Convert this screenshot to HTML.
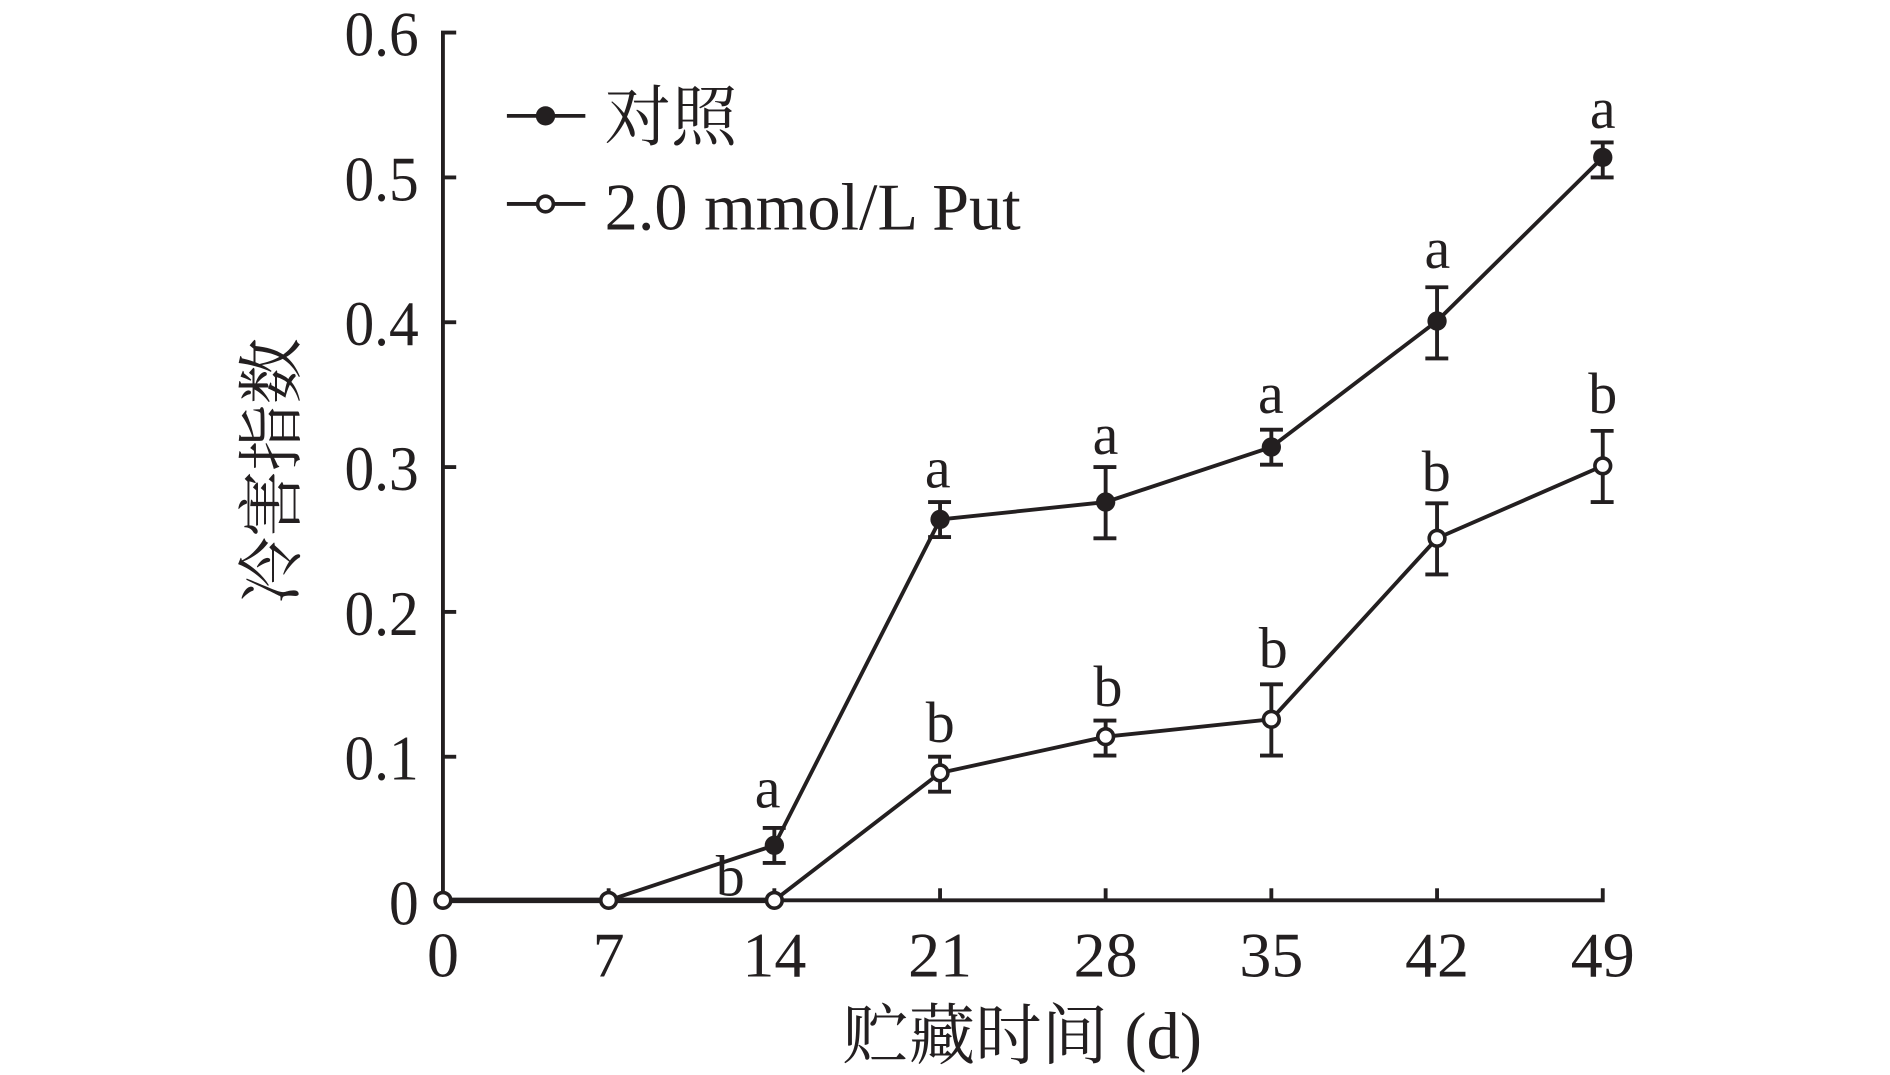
<!DOCTYPE html>
<html><head><meta charset="utf-8"><style>
html,body{margin:0;padding:0;background:#fff;}
svg{display:block;}
text{font-family:"Liberation Serif","Noto Serif CJK SC",serif;fill:#231f20;}
.cj{font-family:"Liberation Serif","Noto Serif CJK SC","Noto Sans CJK SC",serif;}
</style></head><body>
<svg width="1890" height="1075" viewBox="0 0 1566 890.7" xmlns="http://www.w3.org/2000/svg">
<g stroke="#231f20" stroke-width="3.2" fill="none">
<polyline points="378,27 367,27 367,746 1328,746 1328,736"/>
<line x1="367" y1="147" x2="378" y2="147"/>
<line x1="367" y1="267" x2="378" y2="267"/>
<line x1="367" y1="387" x2="378" y2="387"/>
<line x1="367" y1="507" x2="378" y2="507"/>
<line x1="367" y1="627" x2="378" y2="627"/>
<line x1="504.3" y1="746" x2="504.3" y2="736"/>
<line x1="641.6" y1="746" x2="641.6" y2="736"/>
<line x1="778.9" y1="746" x2="778.9" y2="736"/>
<line x1="916.1" y1="746" x2="916.1" y2="736"/>
<line x1="1053.4" y1="746" x2="1053.4" y2="736"/>
<line x1="1190.7" y1="746" x2="1190.7" y2="736"/>
<line x1="367" y1="746" x2="641.6" y2="746" stroke-width="4.5"/>
<polyline points="367,746 504.3,746 641.6,700.4 778.9,430.4 916.1,416 1053.4,370.4 1190.7,266 1328,130.4"/>
<polyline points="367,746 504.3,746 641.6,746 778.9,640.4 916.1,610.4 1053.4,596 1190.7,446 1328,386"/>
<path d="M641.6,686v29M632,686h19M632,715h19
M778.9,416v29M769,416h19M769,445h19
M916.1,387v59M906,387h19M906,446h19
M1053.4,356v29M1044,356h19M1044,385h19
M1190.7,238v59M1181,238h19M1181,297h19
M1328,118v29M1318,118h19M1318,147h19"/>
<path d="M778.9,627v29M769,627h19M769,656h19
M916.1,597v29M906,597h19M906,626h19
M1053.4,567v59M1044,567h19M1044,626h19
M1190.7,417v59M1181,417h19M1181,476h19
M1328,357v59M1318,357h19M1318,416h19"/>
<line x1="420" y1="96" x2="485" y2="96"/>
<line x1="420" y1="169" x2="485" y2="169"/>
</g>
<g fill="#231f20">
<circle cx="641.6" cy="700.4" r="8"/><circle cx="778.9" cy="430.4" r="8"/><circle cx="916.1" cy="416" r="8"/>
<circle cx="1053.4" cy="370.4" r="8"/><circle cx="1190.7" cy="266" r="8"/><circle cx="1328" cy="130.4" r="8"/>
<circle cx="452" cy="96" r="8"/>
</g>
<g fill="#fff" stroke="#231f20" stroke-width="3">
<circle cx="367" cy="746" r="6.5"/><circle cx="504.3" cy="746" r="6.5"/><circle cx="641.6" cy="746" r="6.5"/>
<circle cx="778.9" cy="640.4" r="6.5"/><circle cx="916.1" cy="610.4" r="6.5"/><circle cx="1053.4" cy="596" r="6.5"/>
<circle cx="1190.7" cy="446" r="6.5"/><circle cx="1328" cy="386" r="6.5"/>
<circle cx="452" cy="169" r="6.5"/>
</g>
<g font-size="53" text-anchor="end" transform="translate(347,0) scale(0.93,1) translate(-347,0)">
<text x="347" y="46">0.6</text><text x="347" y="166">0.5</text><text x="347" y="286">0.4</text>
<text x="347" y="406">0.3</text><text x="347" y="526">0.2</text><text x="347" y="646">0.1</text>
<text x="347" y="766">0</text>
</g>
<g font-size="53" text-anchor="middle">
<text x="367" y="809">0</text><text x="504.3" y="809">7</text><text x="641.6" y="809">14</text>
<text x="778.9" y="809">21</text><text x="916.1" y="809">28</text><text x="1053.4" y="809">35</text>
<text x="1190.7" y="809">42</text><text x="1328" y="809">49</text>
</g>
<g font-size="48" text-anchor="middle">
<text x="636" y="669">a</text><text x="605" y="742">b</text>
<text x="777" y="404">a</text><text x="779" y="615">b</text>
<text x="916" y="376">a</text><text x="918" y="585">b</text>
<text x="1053" y="342">a</text><text x="1055" y="553">b</text>
<text x="1191" y="222">a</text><text x="1190" y="407">b</text>
<text x="1328" y="106">a</text><text x="1328" y="342">b</text>
</g>
<text x="501" y="116" font-size="55" class="cj">对照</text>
<text x="501" y="190" font-size="55">2.0 mmol/L Put</text>
<text x="847" y="877" font-size="55" text-anchor="middle" class="cj">贮藏时间 (d)</text>
<text transform="translate(244,390) rotate(-90)" font-size="55" text-anchor="middle" class="cj">冷害指数</text>
</svg>
</body></html>
